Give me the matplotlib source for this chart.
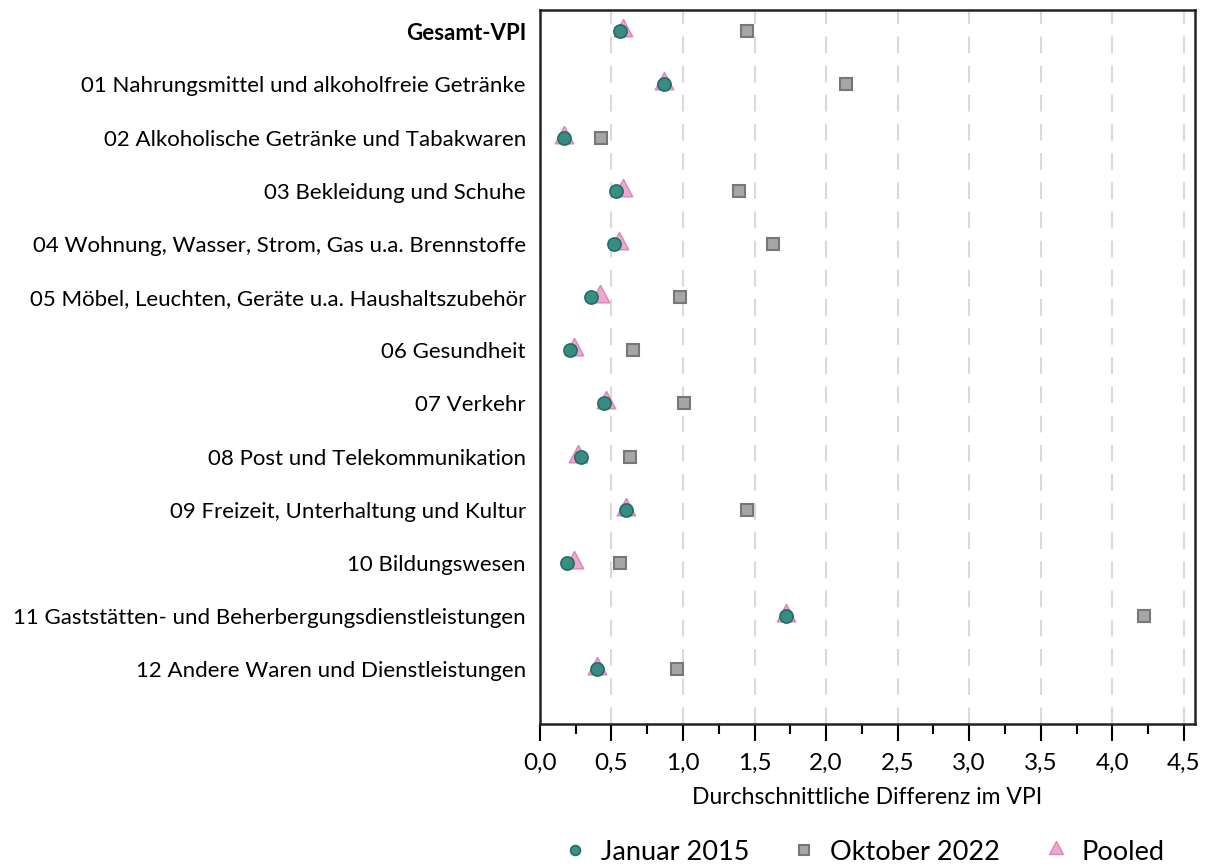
import matplotlib.pyplot as plt
from matplotlib.ticker import MultipleLocator, FuncFormatter

plt.rcParams['font.family'] = ['Lato', 'DejaVu Sans']

categories = [
    'Gesamt-VPI',
    '01 Nahrungsmittel und alkoholfreie Getränke',
    '02 Alkoholische Getränke und Tabakwaren',
    '03 Bekleidung und Schuhe',
    '04 Wohnung, Wasser, Strom, Gas u.a. Brennstoffe',
    '05 Möbel, Leuchten, Geräte u.a. Haushaltszubehör',
    '06 Gesundheit',
    '07 Verkehr',
    '08 Post und Telekommunikation',
    '09 Freizeit, Unterhaltung und Kultur',
    '10 Bildungswesen',
    '11 Gaststätten- und Beherbergungsdienstleistungen',
    '12 Andere Waren und Dienstleistungen',
]
januar_2015 = [0.56, 0.87, 0.17, 0.53, 0.52, 0.36, 0.21, 0.45, 0.29, 0.60, 0.19, 1.72, 0.40]
oktober_2022 = [1.45, 2.14, 0.43, 1.39, 1.63, 0.98, 0.65, 1.01, 0.63, 1.45, 0.56, 4.22, 0.96]
pooled = [0.58, 0.87, 0.17, 0.58, 0.55, 0.42, 0.24, 0.46, 0.27, 0.60, 0.24, 1.72, 0.40]

# triangle shifted up a bit so its base sits level with the circle bottom
tri = [(0, 1.25), (-0.95, -0.55), (0.95, -0.55), (0, 1.25)]

fig = plt.figure(figsize=(12.05, 8.68), dpi=100)
ax = fig.add_axes([0.448, 0.166, 0.544, 0.8225])

y = list(range(len(categories)))

ax.plot(oktober_2022, y, 's', ms=9, color='#a6a6a6', mec='#777777', mew=1.5,
        ls='none', label='Oktober 2022', zorder=3)
ax.plot(pooled, y, marker=tri, ms=17.5, color='#e8a0c8', mec='#d97fb0', mew=1,
        ls='none', alpha=0.9, label='Pooled', zorder=3)
ax.plot(januar_2015, y, 'o', ms=9.5, color='#2e8b80', mec='#1e6b62', mew=1.2,
        ls='none', alpha=0.95, label='Januar 2015', zorder=4)

ax.set_xlim(0, 4.58)
ax.set_ylim(13.03, -0.4)
ax.set_yticks(y)
ax.set_yticklabels(categories, fontsize=16)
ax.get_yticklabels()[0].set_fontweight('bold')
ax.tick_params(axis='y', length=0, pad=10)

ax.xaxis.set_major_locator(MultipleLocator(0.5))
ax.xaxis.set_minor_locator(MultipleLocator(0.25))
ax.xaxis.set_major_formatter(FuncFormatter(lambda v, p: f'{v:.1f}'.replace('.', ',')))
ax.tick_params(axis='x', which='major', length=12, width=1.5, labelsize=17.5, pad=9)
ax.tick_params(axis='x', which='minor', length=7, width=1.5)
ax.set_xlabel('Durchschnittliche Differenz im VPI', fontsize=16.5, labelpad=9)

ax.grid(axis='x', which='major', color='#d9d9d9', ls=(0, (8, 6)), lw=1.5, zorder=0)
for s in ax.spines.values():
    s.set_linewidth(1.8)
    s.set_color('#222222')

handles, labels = ax.get_legend_handles_labels()
order = [2, 0, 1]
fig.legend([handles[i] for i in order], [labels[i] for i in order],
           loc='center', bbox_to_anchor=(0.716, 0.018), ncol=3, frameon=False,
           fontsize=19.5, markerscale=0.75, handletextpad=0.45, columnspacing=1.55,
           handlelength=1.0)

fig.savefig('out.png', dpi=100)
